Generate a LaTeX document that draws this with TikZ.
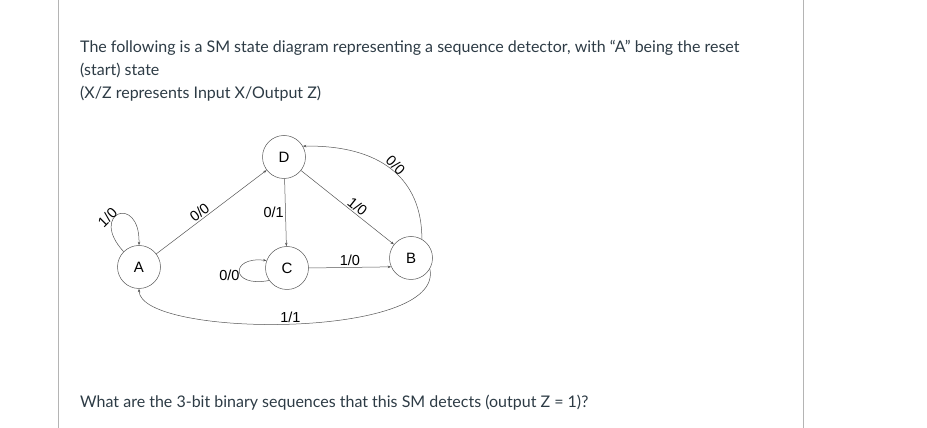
\documentclass[tikz,border=0pt]{standalone}
\usepackage{fontspec}
\setmainfont{Lato}
\newfontfamily\diagfont{Liberation Sans}
\usetikzlibrary{arrows.meta, positioning}
\definecolor{bodytext}{HTML}{2D3B45}
\definecolor{pageline}{HTML}{B4B4B4}
\definecolor{edgegray}{HTML}{555555}

\begin{document}
\begin{tikzpicture}[x=1pt, y=1pt,
    state/.style={circle, draw=edgegray, line width=0.5pt, minimum size=43pt, inner sep=0pt, font=\diagfont\fontsize{15}{15}\selectfont},
    trans/.style={-{Stealth[length=3.5pt, width=2.5pt]}, draw=edgegray, line width=0.5pt},
    lbl/.style={font=\diagfont\fontsize{14.5}{14.5}\selectfont, inner sep=1.5pt},
    para/.style={anchor=base west, font=\fontsize{16}{16}\selectfont, text=bodytext, inner sep=0pt}]
    \useasboundingbox (0,0) rectangle (927,428);
    \draw[pageline, line width=1pt] (58.5,0) -- (58.5,428);
    \draw[pageline, line width=1pt] (803,0) -- (803,428);
    % question text
    \node[para] (line1) at (80,375) {The following is a SM state diagram representing a sequence detector, with “A” being the reset};
    \node[para] (line2) at (80,352) {(start) state};
    \node[para] (line3) at (80,329) {(X/Z represents Input X/Output Z)};
    \node[para] (ask) at (80,20) {What are the 3-bit binary sequences that this SM detects (output Z = 1)?};
    % states
    \node[state] (A) at (139,161) {A};
    \node[state] (D) at (284,271) {D};
    \node[state] (C) at (287,160) {C};
    \node[state] (B) at (411,170) {B};
    % transitions
    \draw[trans] (A.135) .. controls (88,215) and (140,235) .. (A.north)
      node[lbl, pos=0.32, rotate=45, anchor=south, inner sep=0.5pt] {1/0};
    \draw[trans] (A) -- (D) node[lbl, pos=0.43, above, sloped] {0/0};
    \draw[trans] (D) -- (C) node[lbl, midway, left] {0/1};
    \draw[trans] (D) -- (B) node[lbl, pos=0.56, above, sloped] {1/0};
    \draw[trans] (B.60) .. controls (422,250) and (380,283) .. (D.30)
      node[lbl, pos=0.5, rotate=-45, anchor=south, inner sep=0.5pt] {0/0};
    \draw[trans] (C.215) .. controls (230,140) and (230,172) .. (C.160)
      node[lbl, pos=0.4, left, inner sep=1pt] {0/0};
    \draw[trans] (C.east) -- (B.204) node[lbl, midway, above] {1/0};
    \draw[trans] (B.-30) .. controls (445,88) and (140,90) .. (A.south)
      node[lbl, midway, above, inner sep=1pt] {1/1};
\end{tikzpicture}
\end{document}
